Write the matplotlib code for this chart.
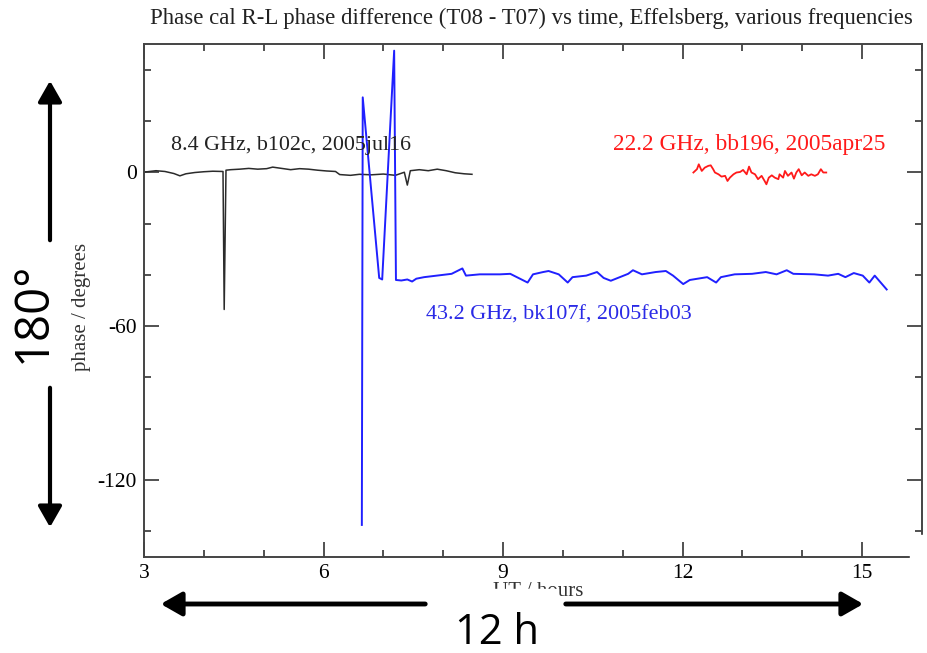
import matplotlib
matplotlib.use('Agg')
import matplotlib.pyplot as plt
from matplotlib.patches import FancyArrowPatch, Rectangle

plt.rcParams['axes.unicode_minus'] = False

# 8.4 GHz, b102c, 2005jul16 (black)
t_84 = [3.02, 3.2, 3.35, 3.5, 3.6, 3.7, 3.85, 4.0, 4.15, 4.32,
        4.34, 4.37, 4.45, 4.6, 4.75, 4.9, 5.05, 5.15, 5.3, 5.45,
        5.6, 5.75, 5.9, 6.05, 6.2, 6.27, 6.45, 6.6, 6.8, 7.0,
        7.2, 7.35, 7.4, 7.45, 7.6, 7.75, 7.9, 8.05, 8.2, 8.35, 8.48]
p_84 = [0.1, 0.6, 0.3, -0.5, -1.4, -0.6, -0.1, 0.2, 0.4, 0.3,
        -53.5, 0.8, 1.0, 1.2, 1.5, 1.2, 1.4, 2.0, 1.5, 1.0,
        1.4, 1.2, 0.8, 0.5, 0.3, -0.9, -1.2, -0.8, -1.0, -0.7,
        -1.2, 0.0, -5.0, 0.6, 1.0, 0.6, 1.2, 0.6, -0.2, -0.6, -0.8]

# 43.2 GHz, bk107f, 2005feb03 (blue)
t_432 = [6.64, 6.655, 6.93, 6.98, 7.18, 7.21, 7.30, 7.40, 7.48, 7.55,
         7.68, 8.14, 8.32, 8.38, 8.61, 8.95, 9.12, 9.41, 9.50, 9.67,
         9.76, 9.93, 10.08, 10.16, 10.39, 10.57, 10.68, 10.80, 11.09, 11.17,
         11.32, 11.55, 11.72, 11.84, 12.01, 12.12, 12.41, 12.56, 12.64, 12.87,
         13.16, 13.39, 13.57, 13.74, 13.85, 14.20, 14.43, 14.60, 14.72, 14.86,
         15.01, 15.12, 15.21, 15.41]
p_432 = [-137.5, 29.2, -41.2, -41.8, 47.4, -42.0, -42.2, -41.8, -42.6, -41.5,
         -40.9, -39.6, -37.5, -40.3, -39.8, -39.8, -39.6, -43.0, -39.8, -38.9,
         -38.5, -39.8, -43.0, -40.9, -40.3, -38.9, -41.2, -42.3, -39.6, -38.2,
         -39.8, -38.9, -38.5, -40.3, -43.6, -42.0, -40.9, -43.0, -40.9, -39.8,
         -39.6, -38.9, -39.8, -38.2, -39.6, -39.8, -40.3, -39.6, -40.9, -39.3,
         -40.3, -43.0, -40.3, -45.7]

# 22.2 GHz, bb196, 2005apr25 (red)
t_222 = [12.18, 12.24, 12.27, 12.32, 12.37, 12.43, 12.47, 12.51, 12.54, 12.60,
         12.65, 12.71, 12.75, 12.79, 12.85, 12.90, 12.96, 13.01, 13.07, 13.11,
         13.15, 13.21, 13.26, 13.32, 13.37, 13.40, 13.44, 13.49, 13.54, 13.60,
         13.62, 13.68, 13.71, 13.76, 13.82, 13.86, 13.90, 13.94, 13.99, 14.04,
         14.10, 14.15, 14.21, 14.26, 14.31, 14.35, 14.40]
p_222 = [-0.1, 1.2, 3.1, 0.5, 1.8, 2.5, 2.7, 1.2, -0.1, -0.8,
         -1.7, -1.4, -3.4, -2.1, -0.8, -0.1, 0.1, 0.9, -0.8, 2.2,
         -0.1, -0.8, -2.7, -1.4, -3.4, -4.7, -2.1, -1.2, -2.1, -2.7,
         -0.8, -2.1, 0.5, -1.4, -0.1, -2.5, -0.1, 1.2, -1.2, -0.1,
         -1.4, -0.8, -1.4, -0.8, 1.2, -0.1, -0.1]

W, H = 928, 653
serif = 'Liberation Serif'


def fxy(x, y):
    # pixel position in the picture -> figure fraction
    return x / W, 1 - y / H


fig = plt.figure(figsize=(W / 100, H / 100), dpi=100)
ax = fig.add_axes([144 / W, 1 - 557 / H, (922 - 144) / W, (557 - 44) / H])

ax.plot(t_84, p_84, color='#2b2b2b', lw=1.1)
ax.plot(t_432, p_432, color='#2020ff', lw=1.4)
ax.plot(t_222, p_222, color='#ff1a1a', lw=1.3)

ax.text(3.45, 10.5, '8.4 GHz, b102c, 2005jul16', color='#222222',
        fontsize=15.8, family=serif, va='center')
ax.text(10.84, 11.0, '22.2 GHz, bb196, 2005apr25', color='#ff1a1a',
        fontsize=16.8, family=serif, va='center')
ax.text(7.72, -55.5, '43.2 GHz, bk107f, 2005feb03', color='#2a2ae6',
        fontsize=15.9, family=serif, va='center')

ax.set_xlim(3, 16)
ax.set_ylim(-150, 50)
ax.set_xticks([3, 6, 9, 12, 15])
ax.set_xticks(range(3, 17), minor=True)
ax.set_yticks([0, -60, -120])
ax.set_yticks(range(-140, 50, 20), minor=True)
ax.tick_params(which='both', direction='in', top=True, right=True,
               color='#333333', width=1.2, labelsize=15.5, pad=5)
ax.tick_params(which='major', length=11)
ax.tick_params(which='minor', length=5)
for lab in ax.get_xticklabels() + ax.get_yticklabels():
    lab.set_family(serif)
for s in ax.spines.values():
    s.set_color('#444444')
    s.set_linewidth(1.4)

fig.text(*fxy(531, 18), 'Phase cal R-L phase difference (T08 - T07) vs time, Effelsberg, various frequencies',
         ha='center', va='center', fontsize=16.4, family=serif, color='#222222')
fig.text(*fxy(82, 307), 'phase / degrees', rotation=90, ha='center', va='center',
         fontsize=15, family=serif, color='#333333')
fig.text(*fxy(538, 592), 'UT / hours', ha='center', va='center',
         fontsize=15, family=serif, color='#333333')

# white patches from the slide overlay
fig.add_artist(Rectangle(fxy(910, 653), (W - 910) / W, (653 - 535) / H,
                         transform=fig.transFigure, color='white', zorder=5))
fig.add_artist(Rectangle(fxy(428, 653), (558 - 428) / W, (653 - 589) / H,
                         transform=fig.transFigure, color='white', zorder=5))

# slide annotation arrows
arrows = [((50, 243), (50, 78), 3.0), ((50, 385), (50, 530), 3.0),
          ((428, 604), (158, 604), 3.5), ((563, 604), (866, 604), 3.5)]
for start, end, lw in arrows:
    fig.add_artist(FancyArrowPatch(fxy(*start), fxy(*end), transform=fig.transFigure,
                                   arrowstyle='-|>,head_length=0.7,head_width=0.4',
                                   mutation_scale=18, lw=lw, color='black', zorder=6))

fig.text(*fxy(33, 312), '180°', rotation=90, ha='center', va='center',
         fontsize=34, family='Open Sans', zorder=7)
fig.text(*fxy(497, 633), '12 h', ha='center', va='center',
         fontsize=30, family='Open Sans', zorder=7)

fig.savefig('out.png', dpi=100)
